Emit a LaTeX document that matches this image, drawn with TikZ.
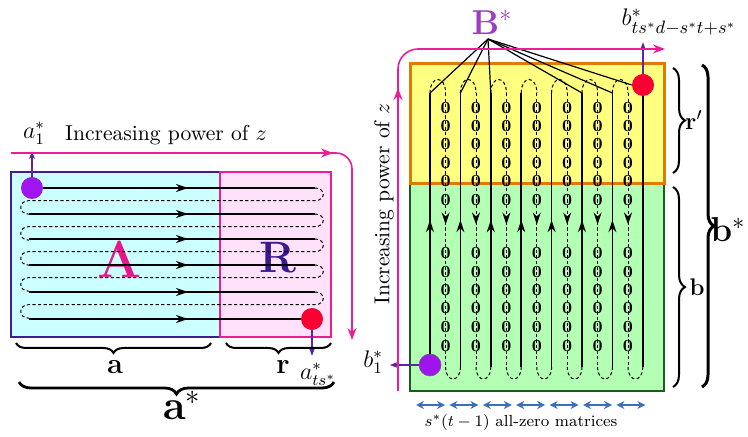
\documentclass[tikz,border=0pt]{standalone}
\usepackage{amsmath}
\usetikzlibrary{arrows.meta, positioning, shapes.geometric, decorations.pathreplacing, decorations.markings}

\definecolor{zpink}{RGB}{236,30,150}
\definecolor{aedge}{RGB}{59,31,143}
\definecolor{afill}{RGB}{204,255,255}
\definecolor{rfill}{RGB}{255,226,250}
\definecolor{atext}{RGB}{232,22,140}
\definecolor{rtext}{RGB}{58,26,143}
\definecolor{dotpurple}{RGB}{160,20,240}
\definecolor{dotred}{RGB}{250,0,50}
\definecolor{ptrpurple}{RGB}{90,40,160}
\definecolor{yfill}{RGB}{255,255,128}
\definecolor{yedge}{RGB}{224,123,0}
\definecolor{gfill}{RGB}{179,255,179}
\definecolor{gedge}{RGB}{30,90,30}
\definecolor{bstar}{RGB}{154,63,191}
\definecolor{zblue}{RGB}{58,111,192}

\begin{document}
\begin{tikzpicture}[
  x=0.5pt, y=-0.5pt,
  >={Stealth[length=6pt, width=4.5pt]},
  dot/.style={circle, inner sep=0pt, minimum size=11pt},
  runline/.style={line width=0.8pt},
  backline/.style={dash pattern=on 1.6pt off 1.2pt, line width=0.5pt},
  midarrow/.style={postaction={decorate}, decoration={markings, mark=at position #1 with {\arrow{Stealth[length=6pt, width=4pt]}}}},
  zero/.style={inner sep=0pt, font=\fontsize{8.5}{9}\selectfont\bfseries},
  bracket/.style={decorate, decoration={brace, amplitude=#1}, line width=1pt},
  pointer/.style={->, ptrpurple, line width=0.6pt, >={Stealth[length=4pt, width=3pt]}},
  incfont/.style={font=\fontsize{10.8}{13}\selectfont}
]
\useasboundingbox (0,0) rectangle (748,437);

% ---- left: A and R ----
\draw[aedge, fill=afill, line width=0.9pt] (11,172) rectangle (220,337);
\draw[zpink, fill=rfill, line width=0.9pt] (220,172) rectangle (331,337);
\node[text=atext, font=\fontsize{26}{28}\selectfont\bfseries] (Albl) at (120,259) {A};
\node[text=rtext, font=\fontsize{22}{24}\selectfont\bfseries] (Rlbl) at (278,258) {R};

\foreach \ys in {188,214,239,265,292} {
  \draw[runline, midarrow=0.556] (29,\ys) -- (315,\ys);
  \draw[backline] (315,\ys) .. controls (326,\ys) and (326,{\ys+12.6}) .. (315,{\ys+12.6})
    -- (29,{\ys+12.6}) .. controls (18,{\ys+12.6}) and (18,{\ys+26.2}) .. (29,{\ys+26.2});
}
\draw[runline, midarrow=0.556] (29,319) -- (315,319);

\node[dot, fill=dotpurple] (aone) at (32,188) {};
\node[dot, fill=dotred] (alast) at (312,319) {};
\node[font=\large] (aonelbl) at (34,133) {$a_1^*$};
\node[font=\large] (alastlbl) at (318,374) {$a_{ts^*}^*$};
\draw[pointer] (aone) -- (aone |- aonelbl.south);
\draw[pointer] (alast) -- (alast |- alastlbl.north);

\node[incfont] (inc) at (166,135) {Increasing power of $z$};
\draw[zpink, line width=0.8pt, ->] (11,153) -- (333,153);
\draw[zpink, line width=0.8pt, ->, rounded corners=8pt] (330,153) -- (352,153) -- (352,340);

\draw[bracket=5pt] (211,343) -- (16,343);
\draw[bracket=5pt] (331,343) -- (226,343);
\draw[bracket=6pt, line width=1.4pt] (334,382) -- (19,382);
\node[font=\fontsize{14}{16}\selectfont] (albl) at (115,367) {$\mathbf{a}$};
\node[font=\fontsize{14}{16}\selectfont] (rlbl) at (283,367) {$\mathbf{r}$};
\node[font=\fontsize{20}{22}\selectfont] (astar) at (182,405) {$\mathbf{a}^*$};

% ---- right: B* ----
\draw[gedge, fill=gfill, line width=1pt] (410,184) rectangle (664,391);
\draw[yedge, fill=yfill, line width=1.5pt] (410,64) rectangle (664,184);

\foreach \i in {0,...,6} {
  \pgfmathsetmacro{\xs}{430+\i*30.4}
  \pgfmathsetmacro{\xd}{\xs+15.6}
  \pgfmathsetmacro{\xn}{\xs+30.4}
  \draw[runline, midarrow=0.536] (\xs,367) -- (\xs,93);
  \draw[backline] (\xs,93) .. controls (\xs,75) and (\xd,75) .. (\xd,93);
  \draw[backline, midarrow=0.48] (\xd,93) -- (\xd,367);
  \draw[backline] (\xd,367) .. controls (\xd,383) and (\xn,383) .. (\xn,367);
  \coordinate (top\i) at (\xs,93);
}
\draw[runline] (642.8,367) -- (642.8,85);

\foreach \c in {0,...,6} {
  \foreach \yz [count=\k] in {108,126,144,163,181,200,253,272,290,308,327,346} {
    \node[zero] (z\c-\k) at ({445.6+\c*30.4},\yz) {0};
  }
}

\node[dot, fill=dotpurple, draw=black!60, line width=0.3pt] (bone) at (430,365) {};
\node[dot, fill=dotred] (blast) at (643,85) {};
\node[font=\large] (bonelbl) at (373,362) {$b_1^*$};
\node[font=\fontsize{12.5}{14}\selectfont] (blastlbl) at (679,22) {$b^*_{ts^*d-s^*t+s^*}$};
\draw[pointer] (bone) -- (bone -| bonelbl.east);
\draw[pointer] (blast) -- (blast |- blastlbl.south);

\node[text=bstar, font=\fontsize{18}{20}\selectfont, inner sep=0pt, anchor=north] (Bstar) at (492,10) {$\mathbf{B}^*$};
\coordinate (apex) at (488,39);
\foreach \t in {0,1,2,5,6}
  \draw[line width=0.6pt] (apex) -- (top\t);
\draw[line width=0.6pt] (apex) -- (blast.west);

\node[incfont, rotate=90] (incb) at (384,204) {Increasing power of $z$};
\draw[zpink, line width=0.8pt, ->] (398,391) -- (398,88);
\draw[zpink, line width=0.8pt, ->, rounded corners=10pt] (398,95) -- (398,49) -- (665,49);

\draw[bracket=6pt] (673,68) -- (673,173);
\draw[bracket=6pt] (673,187) -- (673,387);
\draw[bracket=6pt, line width=1.5pt] (702,65) -- (702,387);
\node[font=\fontsize{13}{15}\selectfont] (rplbl) at (694,120) {$\mathbf{r}'$};
\node[font=\fontsize{13}{15}\selectfont] (blbl) at (697,287) {$\mathbf{b}$};
\node[font=\fontsize{18}{20}\selectfont] (bstarlbl) at (728,230) {$\mathbf{b}^*$};

\foreach \i in {0,...,6}
  \draw[zblue, line width=0.8pt, <->, >={Stealth[length=4pt, width=4pt]}] ({416+\i*33.4},405) -- ({445+\i*33.4},405);
\node[font=\footnotesize] (zerolbl) at (521,422) {$s^*(t-1)$ all-zero matrices};
\end{tikzpicture}
\end{document}
